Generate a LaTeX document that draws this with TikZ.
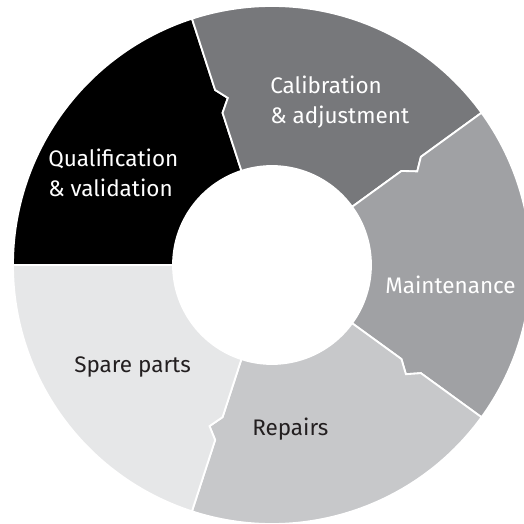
\documentclass[tikz,border=0pt]{standalone}
\usepackage{fontspec}
\setmainfont{Fira Sans}
\definecolor{calibgray}{HTML}{77787B}
\definecolor{maintgray}{HTML}{A0A1A4}
\definecolor{repairgray}{HTML}{C7C8CA}
\definecolor{sparegray}{HTML}{E6E7E8}
\definecolor{labeldark}{HTML}{231F20}
\begin{document}
\begin{tikzpicture}[scale=1, every node/.style={font=\fontsize{16}{21.5}\selectfont, inner sep=0pt, align=left},
    seg/.style={draw=white, line width=1.3pt}]
    \useasboundingbox (-6.8,-6.475) rectangle (6.3,6.625);
    % five pieces of the ring: hi/lo are the edge angles, th/tl the notch offsets
    \foreach \hi/\lo/\th/\tl/\col in {180/108/0/3.2/black, 108/36/3.2/3.2/calibgray, 36/-36/3.2/3.2/maintgray,
                                      -36/-108/3.2/3.2/repairgray, -108/-180/3.2/0/sparegray}
        \filldraw[seg, fill=\col] (\lo:2.475) -- (\lo:4.0) -- ({\lo-\tl}:4.32) -- (\lo:4.6) -- (\lo:6.475)
            arc[start angle=\lo, end angle=\hi, radius=6.475]
            -- (\hi:4.6) -- ({\hi-\th}:4.32) -- (\hi:4.0) -- (\hi:2.475)
            arc[start angle=\hi, end angle=\lo, radius=2.475] -- cycle;
    % labels
    \node[anchor=west, text=white] (qual) at (-5.6,2.3) {Qualification\\\& validation};
    \node[anchor=west, text=white] (calib) at (-0.05,4.08) {Calibration\\\& adjustment};
    \node[anchor=base west, text=white] (maint) at (2.825,-0.7) {Maintenance};
    \node[anchor=base west, text=labeldark] (spare) at (-4.95,-2.675) {Spare parts};
    \node[anchor=base west, text=labeldark] (repair) at (-0.5,-4.25) {Repairs};
\end{tikzpicture}
\end{document}
